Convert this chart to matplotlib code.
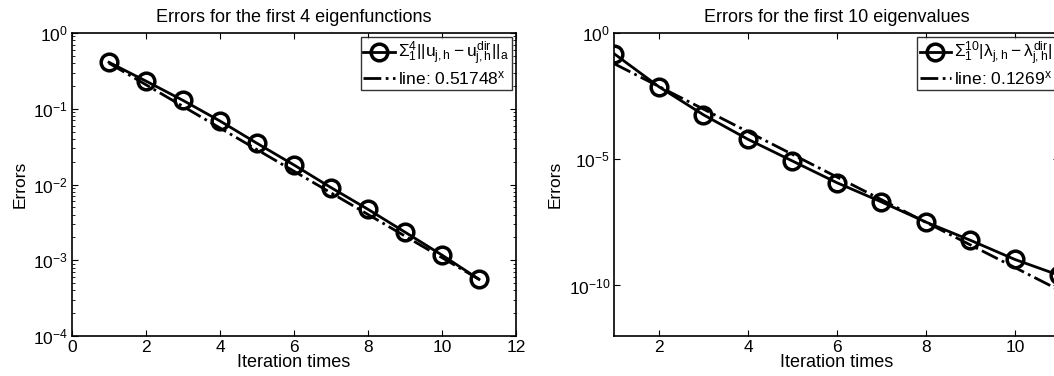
import numpy as np
import matplotlib
matplotlib.use("Agg")
import matplotlib.pyplot as plt

plt.rcParams['font.family'] = ['Liberation Sans', 'DejaVu Sans']
plt.rcParams['mathtext.fontset'] = 'custom'
plt.rcParams['mathtext.rm'] = 'Liberation Sans'
plt.rcParams['mathtext.it'] = 'Liberation Sans'
plt.rcParams['mathtext.sf'] = 'Liberation Sans'

# left: eigenfunction errors
iters = [1, 2, 3, 4, 5, 6, 7, 8, 9, 10, 11]
err_func = [0.41, 0.232, 0.129, 0.0689, 0.035, 0.0181, 0.0091, 0.0047, 0.00235, 0.00117, 0.00056]
line_func_x = [1, 11]
line_func_y = [0.40, 0.00056]

# right: eigenvalue errors
err_val = [10**-0.83, 10**-2.13, 10**-3.24, 10**-4.21, 10**-5.07, 10**-5.93,
           10**-6.69, 10**-7.49, 10**-8.21, 10**-8.97, 10**-9.60]
line_val_x = [1, 11]
line_val_y = [0.060, 6.5e-11]

fig = plt.figure(figsize=(10.54, 3.76), dpi=100)
ax1 = fig.add_axes([0.0683, 0.1064, 0.4213, 0.8058])
ax2 = fig.add_axes([0.583, 0.1064, 0.4222, 0.8058])

def style(ax):
    ax.set_yscale('log')
    ax.tick_params(which='both', direction='in', top=True, right=True, labelsize=12.5)
    ax.tick_params(which='major', length=4, pad=3)
    ax.tick_params(which='minor', length=2)
    for s in ax.spines.values():
        s.set_linewidth(1.2)
    ax.set_ylabel('Errors', fontsize=12.5)
    ax.set_xlabel('Iteration times', fontsize=13, labelpad=-1)

ax1.plot(iters, err_func, '-', color='black', lw=2, marker='o', ms=12, mfc='none', mew=2.5,
         label=r'$\Sigma_1^4||u_{j,h}-u_{j,h}^{dir}||_a$')
ax1.plot(line_func_x, line_func_y, '-.', color='black', lw=2, label=r'line: $0.51748^x$')
style(ax1)
ax1.set_xlim(0, 12)
ax1.set_ylim(1e-4, 1)
ax1.set_xticks([0, 2, 4, 6, 8, 10, 12])
ax1.set_title('Errors for the first 4 eigenfunctions', fontsize=13, pad=8)
leg = ax1.legend(loc='upper right', fontsize=12.5, fancybox=False, edgecolor='black',
                 borderpad=0.15, handlelength=1.8, handletextpad=0.2, borderaxespad=0.25, labelspacing=0.05)
leg.get_frame().set_linewidth(1.0)

ax2.plot(iters, err_val, '-', color='black', lw=2, marker='o', ms=12, mfc='none', mew=2.5,
         label=r'$\Sigma_1^{10}|\lambda_{j,h}-\lambda_{j,h}^{dir}|$')
ax2.plot(line_val_x, line_val_y, '-.', color='black', lw=2, label=r'line: $0.1269^x$')
style(ax2)
ax2.set_xlim(1, 11)
ax2.set_ylim(1e-12, 1)
ax2.set_xticks([2, 4, 6, 8, 10])
ax2.set_yticks([1, 1e-5, 1e-10])
ax2.yaxis.set_minor_locator(matplotlib.ticker.NullLocator())
ax2.set_title('Errors for the first 10 eigenvalues', fontsize=13, pad=8)
leg = ax2.legend(loc='upper right', fontsize=12.5, fancybox=False, edgecolor='black',
                 borderpad=0.15, handlelength=1.8, handletextpad=0.2, borderaxespad=0.25, labelspacing=0.05)
leg.get_frame().set_linewidth(1.0)

fig.savefig('out.png', dpi=100)
